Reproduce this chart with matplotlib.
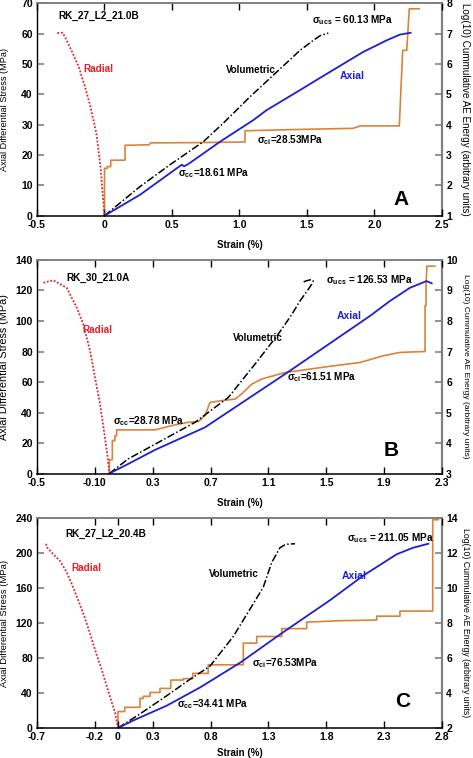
import matplotlib
matplotlib.use("Agg")
import matplotlib.pyplot as plt

plt.rcParams["font.family"] = ["Liberation Sans", "DejaVu Sans"]
plt.rcParams["mathtext.fontset"] = "custom"
plt.rcParams["mathtext.rm"] = "Liberation Sans"
plt.rcParams["mathtext.bf"] = "Liberation Sans:bold"
plt.rcParams["mathtext.it"] = "Liberation Sans:italic"

# ---- panel A : RK_27_L2_21.0B ----
a_rad_x = [-0.350, -0.312, -0.293, -0.24, -0.19, -0.145, -0.11, -0.06, -0.03, -0.01, 0]
a_rad_y = [60.2, 60.3, 59.0, 54.0, 49.0, 42.5, 37.0, 27.2, 16.2, 5.3, 0]
a_ax_x = [0, 0.263, 0.572, 0.59, 0.62, 0.856, 1.102, 1.201, 1.448, 1.670, 1.917, 2.09, 2.189, 2.268]
a_ax_y = [0, 6.9, 16.8, 16.3, 17.0, 24.4, 31.5, 34.8, 41.4, 47.4, 54.0, 57.8, 59.7, 60.3]
a_vol_x = [0, 0.263, 0.485, 0.732, 0.88, 1.078, 1.25, 1.448, 1.547, 1.60, 1.658]
a_vol_y = [0, 9.6, 16.8, 24.4, 30.5, 39.2, 46.3, 54.5, 57.8, 59.4, 60.2]
a_ae_x = [0, 0, 0.021, 0.021, 0.046, 0.046, 0.152, 0.152, 0.332, 0.34, 0.7, 1.041, 1.041,
          1.4, 1.843, 1.893, 2.184, 2.209, 2.239, 2.258, 2.332]
a_ae_y = [1, 2.56, 2.56, 2.62, 2.62, 2.83, 2.83, 3.32, 3.34, 3.40, 3.41, 3.43, 3.80,
          3.84, 3.88, 3.96, 3.96, 6.45, 6.45, 7.82, 7.82]

# ---- panel B : RK_30_21.0A ----
b_rad_x = [-0.456, -0.387, -0.295, -0.225, -0.18, -0.133, -0.099, -0.064, -0.037, -0.014, 0]
b_rad_y = [125.1, 126.7, 121.8, 108.8, 97.9, 80.4, 63.0, 45.6, 28.1, 12.9, 0]
b_ax_x = [0, 0.131, 0.316, 0.662, 1.215, 1.802, 1.94, 2.079, 2.194, 2.229]
b_ax_y = [0, 6.3, 15.5, 30.3, 65.2, 103.3, 113.1, 121.8, 126.2, 124.7]
b_vol_x = [0, 0.131, 0.362, 0.593, 0.823, 1.007, 1.168, 1.26, 1.318, 1.37, 1.399, 1.41, 1.39, 1.36, 1.33]
b_vol_y = [0, 9.6, 21.6, 33.6, 49.9, 71.7, 91.4, 104, 113.1, 120, 124, 126.5, 127, 126.3, 125]
b_ae_x = [0, 0, 0.021, 0.021, 0.039, 0.039, 0.051, 0.051, 0.316, 0.431, 0.546, 0.615, 0.662, 0.696,
          0.777, 0.869, 0.915, 0.985, 1.054, 1.215, 1.549, 1.733, 1.894, 2.01, 2.183, 2.183,
          2.19, 2.19, 2.196, 2.251]
b_ae_y = [3, 3.45, 3.45, 4.08, 4.08, 4.24, 4.24, 4.43, 4.43, 4.57, 4.68, 4.70, 4.90, 5.33,
          5.39, 5.44, 5.61, 5.93, 6.10, 6.31, 6.53, 6.64, 6.86, 6.97, 7.0, 8.5,
          8.5, 9.2, 9.8, 9.8]

# ---- panel C : RK_27_L2_20.4B ----
c_rad_x = [-0.622, -0.616, -0.559, -0.501, -0.443, -0.40, -0.343, -0.30, -0.242, -0.199, -0.141,
           -0.098, -0.054, -0.026, 0]
c_rad_y = [210.6, 206.9, 198.6, 191.0, 177.9, 164.8, 145.9, 130.9, 108.4, 89.5, 66.9,
           48.1, 29.3, 18.1, 0]
c_ax_x = [0, 0.132, 0.421, 0.709, 1.054, 1.415, 1.832, 2.12, 2.409, 2.55, 2.682]
c_ax_y = [0, 8.6, 25.5, 46.3, 74.5, 108.3, 146.0, 174.2, 198.6, 206.0, 210.6]
c_vol_x = [0, 0.19, 0.421, 0.622, 0.795, 0.996, 1.16, 1.256, 1.328, 1.40, 1.45, 1.53]
c_vol_y = [0, 16.1, 36.8, 55.6, 70.7, 104.5, 140, 161, 189, 206, 210, 210.6]
c_ae_x = [0, 0, 0.058, 0.058, 0.19, 0.19, 0.219, 0.219, 0.277, 0.277, 0.363, 0.363, 0.456, 0.456,
          0.565, 0.565, 0.646, 0.646, 0.78, 0.78, 1.083, 1.083, 1.199, 1.199, 1.415, 1.415,
          1.631, 1.631, 1.919, 2.236, 2.236, 2.437, 2.437, 2.72, 2.72, 2.768]
c_ae_y = [2, 2.94, 2.94, 3.18, 3.18, 3.69, 3.69, 3.81, 3.81, 4.03, 4.03, 4.26, 4.26, 4.74,
          4.74, 4.82, 4.82, 5.12, 5.12, 5.61, 5.61, 6.85, 6.85, 7.23, 7.23, 7.68,
          7.68, 8.05, 8.13, 8.17, 8.39, 8.39, 8.68, 8.68, 13.9, 13.9]

# axis ticks
a_xt = [-0.5, 0, 0.5, 1.0, 1.5, 2.0, 2.5]
a_xl = ["-0.5", "0", "0.5", "1.0", "1.5", "2.0", "2.5"]
b_xt = [-0.5, -0.1, 0.3, 0.7, 1.1, 1.5, 1.9, 2.3]
b_xl = ["-0.5", "-0.10", "0.3", "0.7", "1.1", "1.5", "1.9", "2.3"]
c_xt = [-0.7, -0.2, 0, 0.3, 0.8, 1.3, 1.8, 2.3, 2.8]
c_xl = ["-0.7", "-0.2", "0", "0.3", "0.8", "1.3", "1.8", "2.3", "2.8"]

RED = "#e8202a"
BLUE = "#1f1fcf"
ORANGE = "#d7843a"
GRAY = "#808080"

panels = [
    dict(rect=[0.0782, 0.7154, 0.8562, 0.2802], rad=(a_rad_x, a_rad_y), ax=(a_ax_x, a_ax_y),
         vol=(a_vol_x, a_vol_y), ae=(a_ae_x, a_ae_y), xlim=(-0.5, 2.5), xt=a_xt, xl=a_xl,
         ylim=(0, 70), yt=range(0, 71, 10), y2lim=(1, 8), y2t=range(1, 9),
         lsize=6.6, rsize=7.1, xlab_y=-0.115,
         texts=[("RK_27_L2_21.0B", -0.344, 66), (r"$\mathbf{\sigma_{ucs}}$ = 60.13 MPa", 1.537, 64.4),
                (r"$\mathbf{\sigma_{ci}}$=28.53MPa", 1.13, 25.0), (r"$\mathbf{\sigma_{cc}}$=18.61 MPa", 0.547, 14)],
         labels=[(-0.155, 48.2), (0.9, 48), (1.744, 46)], letter=("A", 2.196, 5.3)),
    dict(rect=[0.0782, 0.3753, 0.8562, 0.2817], rad=(b_rad_x, b_rad_y), ax=(b_ax_x, b_ax_y),
         vol=(b_vol_x, b_vol_y), ae=(b_ae_x, b_ae_y), xlim=(-0.5, 2.3), xt=b_xt, xl=b_xl,
         ylim=(0, 140), yt=range(0, 141, 20), y2lim=(3, 10), y2t=range(3, 11),
         lsize=7.8, rsize=6.1, xlab_y=-0.115,
         texts=[("RK_30_21.0A", -0.30, 128.2), (r"$\mathbf{\sigma_{ucs}}$ = 126.53 MPa", 1.498, 126.7),
                (r"$\mathbf{\sigma_{ci}}$=61.51 MPa", 1.229, 63.5), (r"$\mathbf{\sigma_{cc}}$=28.78 MPa", 0.028, 34.2)],
         labels=[(-0.189, 94.2), (0.857, 89.1), (1.574, 103)], letter=("B", 1.948, 15)),
    dict(rect=[0.0782, 0.0396, 0.8562, 0.2770], rad=(c_rad_x, c_rad_y), ax=(c_ax_x, c_ax_y),
         vol=(c_vol_x, c_vol_y), ae=(c_ae_x, c_ae_y), xlim=(-0.7, 2.8), xt=c_xt, xl=c_xl,
         ylim=(0, 240), yt=range(0, 241, 40), y2lim=(2, 14), y2t=range(2, 15, 2),
         lsize=6.8, rsize=6.3, xlab_y=-0.097,
         texts=[("RK_27_L2_20.4B", -0.458, 221.6), (r"$\mathbf{\sigma_{ucs}}$ = 211.05 MPa", 1.976, 216.7),
                (r"$\mathbf{\sigma_{ci}}$=76.53MPa", 1.155, 74.5), (r"$\mathbf{\sigma_{cc}}$=34.41 MPa", 0.513, 27.4)],
         labels=[(-0.406, 183.2), (0.786, 176.4), (1.933, 174.2)], letter=("C", 2.463, 29.7)),
]

fig = plt.figure(figsize=(4.73, 7.58), dpi=100)

for p in panels:
    ax = fig.add_axes(p["rect"])
    ax2 = ax.twinx()
    ax.set_zorder(ax2.get_zorder() + 1)
    ax.patch.set_visible(False)

    ax2.plot(*p["ae"], color=ORANGE, lw=1.2)
    ax.plot(*p["rad"], color=RED, lw=1.3, linestyle=(0, (1, 1)))
    ax.plot(*p["vol"], color="black", lw=1.1, linestyle=(0, (5, 1.5, 1, 1.5)))
    ax.plot(*p["ax"], color=BLUE, lw=1.3)

    ax.set_xlim(*p["xlim"])
    ax.set_ylim(*p["ylim"])
    ax2.set_ylim(*p["y2lim"])
    ax.set_xticks(p["xt"])
    ax.set_xticklabels(p["xl"])
    ax.set_yticks(list(p["yt"]))
    ax2.set_yticks(list(p["y2t"]))

    ax.spines["top"].set_color(GRAY)
    ax.spines["top"].set_linewidth(1.4)
    ax.spines["right"].set_visible(False)
    for s in ["left", "bottom", "top"]:
        ax2.spines[s].set_visible(False)
    ax2.spines["right"].set_color(GRAY)
    ax2.spines["right"].set_linewidth(1.6)
    ax.spines["left"].set_linewidth(1.0)
    ax.spines["bottom"].set_linewidth(1.1)

    ax.tick_params(axis="x", direction="in", top=True, length=5, width=1, color="black",
                   labelsize=7.5, pad=3)
    ax.tick_params(axis="y", direction="in", length=5, width=1.2, color=GRAY, labelsize=7.5, pad=3)
    ax2.tick_params(axis="y", direction="in", length=5, width=1.2, color=GRAY, labelsize=7.5, pad=3)
    for t in ax.xaxis.get_major_ticks():
        t.tick2line.set_color(GRAY)
    for lab in ax.get_xticklabels() + ax.get_yticklabels() + ax2.get_yticklabels():
        lab.set_fontweight("bold")

    ax.set_xlabel("Strain (%)", fontsize=7, fontweight="bold")
    ax.xaxis.set_label_coords(0.5, p["xlab_y"])
    ax.set_ylabel("Axial Differential Stress (MPa)", fontsize=p["lsize"])
    ax.yaxis.set_label_coords(-0.07, 0.5)
    ax2.set_ylabel("Log(10) Cummulative AE Energy (arbitrary units)", fontsize=p["rsize"],
                   rotation=270, va="center")
    ax2.yaxis.set_label_coords(1.058, 0.5)

    for s, x, y in p["texts"]:
        ax.text(x, y, s, fontsize=7.2, fontweight="bold", ha="left", va="center")
    (rx, ry), (vx, vy), (axx, axy) = p["labels"]
    ax.text(rx, ry, "Radial", color=RED, fontsize=7.2, fontweight="bold", ha="left", va="center")
    ax.text(vx, vy, "Volumetric", color="black", fontsize=7, fontweight="bold", ha="left", va="center")
    ax.text(axx, axy, "Axial", color=BLUE, fontsize=7.5, fontweight="bold", ha="left", va="center")
    let, lx, ly = p["letter"]
    ax.text(lx, ly, let, fontsize=15, fontweight="bold", ha="center", va="center")

fig.savefig("out.png", dpi=100)
